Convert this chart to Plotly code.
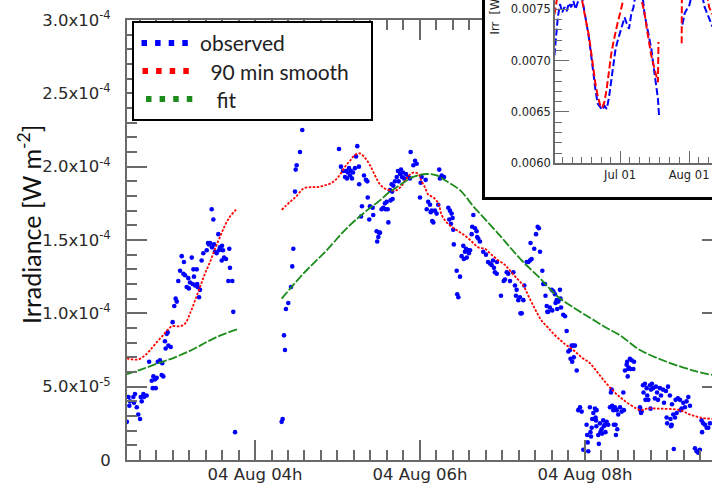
import math
import pandas as pd
import plotly.graph_objects as go

W, H = 712, 484
DAY = pd.Timestamp("2014-08-04")
SCALE = 1e-5  # irradiance lists below are in units of 1e-5 W m^-2

# ---- main panel: observed irradiance, minutes after midnight ----
obs_minute = [
    146.8, 148.0, 148.6, 149.1, 151.5, 152.0, 152.7, 154.0, 155.1, 156.4,
    156.9, 157.6, 158.8, 159.3, 161.2, 163.0, 164.9, 165.6, 166.1, 167.3,
    167.8, 168.5, 169.3, 170.9, 172.1, 172.5, 173.3, 174.5, 175.0, 175.8,
    176.5, 177.0, 178.7, 180.1, 181.3, 182.3, 183.1, 184.2, 185.5, 186.7,
    187.9, 188.3, 189.1, 190.3, 191.5, 191.9, 192.7, 194.0, 194.7, 195.2,
    195.6, 196.4, 197.6, 198.0, 198.3, 199.3, 200.0, 201.2, 202.4, 204.9,
    205.8, 206.5, 207.3, 208.5, 208.7, 209.7, 210.2, 210.9, 212.1, 213.3,
    213.8, 214.5, 215.8, 216.0, 216.7, 217.5, 218.9, 220.6, 221.3, 221.8,
    223.5, 224.2, 225.5,
    259.4, 260.1, 261.1, 261.8, 262.5, 264.2, 266.2, 267.1, 267.9, 269.1,
    269.6, 270.3, 272.7, 274.4, 301.1, 302.5, 304.0, 305.5, 306.2, 306.9,
    307.6, 308.4, 309.1, 309.8, 310.5, 311.3, 312.7, 313.5, 314.4, 315.6,
    315.8, 317.1, 317.8, 319.3, 320.7, 321.7, 322.0, 323.1, 323.6, 325.6,
    326.0, 328.5, 328.9, 329.7, 330.2, 330.9, 332.1, 333.3, 334.5, 334.9,
    335.8, 336.5, 337.0, 338.2, 338.6, 339.4, 339.8, 340.1, 340.6, 341.8,
    343.1, 344.0, 344.5, 345.5, 346.2, 346.9, 347.6, 348.4, 349.8, 351.5,
    352.7, 353.2, 355.2, 356.4, 357.6, 360.0, 360.5, 361.2, 364.1, 364.9,
    366.0, 367.3, 367.8, 368.5, 368.9, 369.7, 370.9, 372.1, 373.3, 374.0,
    374.5, 375.8, 377.5, 380.6, 381.3, 381.8, 382.5, 383.0, 383.7, 384.2,
    384.6, 386.7, 387.1, 387.9, 389.1, 390.3, 391.5, 391.9, 392.7, 393.5,
    394.0, 395.2, 395.6, 396.4, 397.6, 398.0, 398.8, 400.0, 401.2, 401.6,
    402.4, 403.6, 406.0, 408.0, 409.5, 410.9, 412.1, 413.1, 413.8, 414.5,
    415.8, 416.0, 418.9, 420.9, 421.8, 423.1, 424.2, 425.5, 427.9, 429.1,
    429.8, 430.3, 431.5, 432.7, 433.1, 434.0, 435.2, 435.9, 437.6, 438.8,
    440.0, 440.4, 441.2, 443.1, 444.4, 445.6, 446.5, 447.3, 449.0, 449.7,
    450.9, 451.3, 452.2, 452.6, 453.3, 454.5, 455.8, 456.2, 457.0, 458.2,
    458.6, 459.4, 459.8, 460.6, 461.8, 462.2, 462.6, 464.2, 465.5, 466.7,
    467.9, 469.1, 469.5, 470.3, 470.7, 471.5, 471.9, 472.7, 474.0, 475.1,
    476.4, 477.6, 478.8, 481.2, 481.6, 482.0, 482.4, 483.6, 484.0, 484.4,
    484.9, 485.3, 486.1, 487.3, 487.7, 488.0, 488.3, 488.5, 489.7, 490.1,
    490.9, 491.3, 492.1, 492.5, 493.3, 493.7, 494.5, 494.9, 495.8, 496.9,
    498.2, 498.9, 499.4, 499.8, 500.6, 501.0, 501.8, 502.2, 502.5, 503.1,
    503.5, 504.2, 505.5, 506.7, 507.9, 508.3, 509.1, 510.3, 510.7, 511.1,
    511.5, 511.9, 512.7, 513.1, 514.0, 515.2, 515.7, 520.0, 520.4, 520.8,
    521.2, 522.2, 522.6, 523.6, 524.0, 524.9, 525.3, 526.1, 527.3, 527.7,
    528.0, 528.7, 529.5, 530.9, 531.6, 532.4, 533.1, 534.5, 535.3, 536.7,
    537.5, 538.9, 539.4, 539.8, 540.4, 541.8, 542.2, 542.6, 543.1, 543.3,
    544.2, 544.6, 545.5, 545.9, 546.7, 547.6, 549.1, 549.5, 550.3, 551.5,
    552.7, 553.9, 555.2, 556.4, 560.0, 561.2, 562.4, 563.6, 564.8, 565.2,
    566.0, 567.3, 568.5, 569.7, 570.9,
]
obs_irr = [
    2.6, 4.3, 3.7, 4.0, 4.3, 3.9, 4.5, 3.6, 3.1, 2.8,
    4.3, 4.0, 4.5, 4.3, 4.4, 6.7, 5.4, 4.9, 5.7, 5.5,
    4.9, 5.6, 6.7, 6.8, 5.8, 6.6, 5.7, 8.1, 7.6, 8.6,
    8.7, 7.8, 7.7, 9.4, 10.5, 11.0, 10.8, 12.2, 12.9, 13.9,
    12.7, 13.5, 12.6, 11.8, 12.4, 11.7, 12.1, 13.8, 12.0, 13.0,
    12.5, 11.9, 13.0, 12.0, 11.8, 11.1, 11.6, 13.6, 14.1, 14.3,
    14.8, 14.7, 14.8, 17.1, 14.5, 16.4, 14.7, 14.2, 14.1, 15.4,
    14.3, 14.5, 13.6, 14.6, 14.3, 13.8, 13.7, 12.2, 14.4, 13.1,
    12.2, 10.1, 1.9,
    2.6, 2.8, 8.5, 7.5, 10.3, 10.7, 11.8, 13.2, 14.4, 18.3,
    19.8, 20.1, 21.0, 22.5, 21.2, 20.0, 19.7, 19.3, 19.7, 19.2,
    19.6, 19.9, 19.4, 19.7, 19.2, 19.6, 19.9, 20.7, 21.4, 20.0,
    18.8, 16.6, 17.3, 19.4, 19.1, 19.0, 17.9, 16.4, 17.3, 17.2,
    16.7, 15.6, 14.9, 15.2, 15.5, 15.5, 17.1, 17.2, 17.5, 17.1,
    17.6, 17.1, 16.2, 18.4, 17.7, 18.8, 18.3, 17.8, 18.7, 19.0,
    19.3, 19.7, 19.0, 19.5, 19.8, 19.3, 19.6, 19.2, 19.5, 19.3,
    19.2, 21.0, 20.1, 20.4, 20.2, 17.9, 18.9, 19.3, 19.1, 17.1,
    17.6, 17.4, 16.9, 17.0, 16.3, 16.2, 17.0, 16.8, 17.4, 19.8,
    19.2, 19.4, 19.3, 17.2, 16.4, 17.0, 16.1, 16.8, 16.5, 15.7,
    14.7, 12.9, 11.3, 11.1, 12.5, 13.9, 14.6, 13.7, 14.2, 14.4,
    13.8, 14.3, 14.1, 14.3, 15.4, 15.9, 16.7, 15.8, 15.6, 15.2,
    15.1, 14.9, 14.2, 14.0, 13.5, 13.4, 13.3, 13.6, 13.1, 12.8,
    12.7, 13.5, 11.2, 12.2, 12.3, 12.8, 12.7, 12.2, 12.8, 11.9,
    11.2, 11.6, 10.9, 11.1, 10.0, 10.0, 10.9, 11.9, 13.5, 13.5,
    13.6, 14.8, 13.7, 14.4, 15.4, 15.9, 15.8, 14.2, 12.9, 12.0,
    12.0, 11.2, 10.5, 10.1, 10.1, 10.4, 11.6, 10.2, 11.5, 11.3,
    10.7, 10.9, 10.3, 10.8, 11.6, 11.0, 10.4, 9.9, 9.8, 8.8,
    7.4, 7.5, 6.9, 7.8, 6.7, 7.8, 7.0, 7.8, 6.1, 3.4,
    3.6, 3.3, 0.7, 2.4, 1.7, 1.2, 0.6, 3.6, 1.9, 1.6,
    2.2, 2.8, 3.2, 3.5, 2.9, 2.7, 2.3, 3.4, 1.7, 1.1,
    2.5, 1.9, 2.1, 1.8, 2.7, 2.3, 2.4, 1.9, 2.6, 2.4,
    3.6, 4.6, 4.8, 3.7, 3.4, 2.4, 3.6, 2.4, 1.7, 3.4,
    2.1, 3.1, 3.6, 3.3, 4.6, 3.4, 6.1, 6.5, 6.7, 5.7,
    6.2, 6.3, 6.9, 6.2, 6.8, 6.2, 6.7, 3.6, 3.4, 3.2,
    3.3, 5.1, 4.6, 5.2, 4.1, 4.9, 4.4, 4.1, 5.1, 3.5,
    4.8, 5.2, 4.9, 4.2, 5.0, 4.6, 4.1, 4.9, 4.4, 4.8,
    3.9, 4.7, 2.9, 2.5, 5.0, 4.4, 2.8, 2.3, 2.4, 3.8,
    3.1, 0.75, 2.9, 4.1, 3.2, 4.2, 4.1, 3.4, 3.5, 3.9,
    3.6, 4.0, 4.3, 3.7, 0.8, 0.6, 0.5, 0.7, 2.7, 1.9,
    2.5, 2.4, 2.2, 2.2, 2.5,
]
assert len(obs_minute) == len(obs_irr)

# 90 minute running mean (None marks the data gap)
smooth_minute = [
    146.9, 147.6, 154.9, 160.0, 163.6, 168.7, 173.1, 176.7, 179.6, 185.5,
    189.1, 192.7, 196.4, 200.0, 203.6, 207.3, 210.9, 214.5, 218.2, 221.8,
    225.5, 226.6, None,
    259.4, 265.5, 270.3, 275.1, 280.0, 284.9, 289.7, 295.8, 300.6, 305.5,
    309.1, 312.7, 316.4, 320.0, 323.6, 327.3, 330.9, 334.5, 338.2, 343.1,
    346.7, 350.3, 355.1, 358.8, 361.2, 363.6, 366.0, 369.7, 373.3, 375.8,
    379.4, 383.1, 387.9, 392.7, 397.6, 402.4, 407.3, 410.9, 415.8, 421.8,
    425.5, 430.3, 435.1, 438.8, 443.6, 448.5, 453.3, 459.4, 465.5, 471.5,
    477.6, 483.6, 489.7, 495.8, 501.8, 507.9, 517.6, 521.2, 524.8, 534.5,
    549.1, 556.4, 563.6, 572.4,
]
smooth_irr = [
    6.95, 6.92, 6.85, 7.14, 7.48, 8.05, 8.5, 8.89, 9.12, 9.12,
    9.3, 9.98, 10.88, 11.79, 12.7, 13.5, 14.4, 15.2, 16.0, 16.6,
    17.0, 17.1, None,
    17.05, 17.6, 18.0, 18.5, 18.6, 18.6, 18.7, 18.9, 19.3, 20.0,
    20.4, 20.8, 20.9, 20.6, 20.1, 19.4, 18.8, 18.5, 18.4, 18.4,
    18.7, 19.2, 19.6, 19.5, 19.0, 18.6, 18.1, 17.9, 17.5, 16.7,
    16.2, 15.9, 15.6, 15.3, 14.9, 14.5, 14.4, 14.1, 13.7, 13.3,
    12.9, 12.4, 11.9, 11.2, 10.3, 9.5, 9.0, 8.4, 7.9, 7.5,
    7.0, 6.6, 5.9, 5.2, 4.6, 4.1, 3.5, 3.4, 3.5, 3.5,
    3.4, 3.1, 2.9, 2.8,
]
assert len(smooth_minute) == len(smooth_irr)

# fitted curve
fit_minute = [
    146.9, 158.0, 169.7, 181.8, 193.9, 206.0, 215.0, 226.9, None,
    259.4, 275.1, 292.1, 306.7, 321.2, 330.9, 336.9, 343.1, 355.1, 364.9,
    372.1, 379.4, 389.1, 398.8, 408.5, 418.2, 425.5, 435.1, 447.3, 459.4,
    471.5, 483.6, 495.8, 505.5, 520.0, 539.4, 558.8, 572.4,
]
fit_irr = [
    5.85, 6.2, 6.6, 7.0, 7.5, 8.1, 8.5, 8.9, None,
    11.0, 12.7, 14.3, 15.8, 17.0, 17.7, 18.2, 18.6, 19.3, 19.5,
    19.4, 19.0, 18.4, 17.3, 16.3, 15.3, 14.5, 13.5, 12.4, 11.2,
    10.4, 9.7, 9.0, 8.5, 7.5, 6.7, 6.1, 5.8,
]
assert len(fit_minute) == len(fit_irr)

y_ticks = [0, 5e-5, 1e-4, 1.5e-4, 2e-4, 2.5e-4, 3e-4]

# ---- inset: daily irradiance over the summer ----
inset_obs_date = [
    "2014-06-01 12:00", "2014-06-03", "2014-06-04", "2014-06-05", "2014-06-06",
    "2014-06-07", "2014-06-08", "2014-06-09", "2014-06-10", "2014-06-11",
    "2014-06-12", "2014-06-13", "2014-06-14", "2014-06-15", "2014-06-16",
    "2014-06-17", "2014-06-18", "2014-06-19", "2014-06-20", "2014-06-21",
    "2014-06-22", "2014-06-23", "2014-06-24", "2014-06-25", "2014-06-26",
    "2014-06-27", "2014-06-28", "2014-06-29", "2014-06-30", "2014-07-01",
    "2014-07-02", "2014-07-03", "2014-07-04", "2014-07-05", "2014-07-06",
    "2014-07-07", "2014-07-08", "2014-07-11", "2014-07-12", "2014-07-13",
    "2014-07-14", "2014-07-15", "2014-07-16", "2014-07-17", "2014-07-18",
    "2014-07-18 12:00", None,
    "2014-07-29", "2014-07-30", "2014-07-31", "2014-08-01", "2014-08-02",
    "2014-08-07", "2014-08-08", "2014-08-09", "2014-08-10", "2014-08-11 12:00",
]
inset_obs_irr = [
    0.00705, 0.00742, 0.00755, 0.00747, 0.00752,
    0.00748, 0.00756, 0.00752, 0.00758, 0.00750,
    0.00757, 0.00762, 0.00760, 0.00745, 0.00735,
    0.00722, 0.00702, 0.00688, 0.00670, 0.00658,
    0.00655, 0.00652, 0.00656, 0.00653, 0.00664,
    0.00682, 0.00700, 0.00712, 0.00720, 0.00728,
    0.00735, 0.00742, 0.00736, 0.00731, 0.00745,
    0.00752, 0.00765, 0.00765, 0.00745, 0.00735,
    0.00724, 0.00712, 0.00695, 0.00677, 0.00663,
    0.00646, None,
    0.00735, 0.00746, 0.00750, 0.00753, 0.00762,
    0.00762, 0.00752, 0.00746, 0.00740, 0.00733,
]
inset_smooth_date = [
    "2014-06-01 12:00", "2014-06-02", "2014-06-03", "2014-06-13", "2014-06-14",
    "2014-06-15", "2014-06-16", "2014-06-17", "2014-06-18", "2014-06-19",
    "2014-06-20", "2014-06-21", "2014-06-22", "2014-06-23", "2014-06-24",
    "2014-06-25", "2014-06-26", "2014-06-27", "2014-06-28", "2014-06-29",
    "2014-06-30", "2014-07-01", "2014-07-02", "2014-07-03", "2014-07-10",
    "2014-07-11", "2014-07-12", "2014-07-13", "2014-07-14", "2014-07-15",
    "2014-07-16", "2014-07-17", "2014-07-18", "2014-07-18 06:00", None,
    "2014-07-28 16:00", "2014-07-28 18:00", None,
    "2014-08-09", "2014-08-10", "2014-08-11 12:00",
]
inset_smooth_irr = [
    0.00745, 0.00752, 0.00765, 0.00765, 0.00758,
    0.00746, 0.00736, 0.00724, 0.00708, 0.00690,
    0.00676, 0.00665, 0.00657, 0.00654, 0.00660,
    0.00673, 0.00690, 0.00706, 0.00718, 0.00729,
    0.00738, 0.00746, 0.00756, 0.00765, 0.00765,
    0.00756, 0.00746, 0.00731, 0.00716, 0.00705,
    0.00696, 0.00686, 0.00679, 0.00718, None,
    0.00717, 0.00765, None,
    0.00765, 0.00752, 0.00745,
]

AXIS_GREY = "#6a6a6a"
TICK_FONT = dict(family="DejaVu Sans, Verdana, sans-serif", size=16.5, color="#2a2a2a")
SMALL_FONT = dict(family="DejaVu Sans, Verdana, sans-serif", size=11.5, color="#222")
LABEL_FONT = "Lato, Open Sans, sans-serif"
BLUE, RED, GREEN = "#0000ff", "#ff0000", "#1c8c1c"


def stamp(minutes):
    return [None if m is None else (DAY + pd.Timedelta(minutes=m)).strftime("%Y-%m-%d %H:%M:%S")
            for m in minutes]


def scaled(values):
    return [None if v is None else v * SCALE for v in values]


def sci_label(v):
    if v == 0:
        return "0"
    e = math.floor(math.log10(v) + 1e-9)
    return f"{v / 10 ** e:.1f}x10<sup>{e}</sup>"


def px_x(px):
    return px / W


def px_y(py):
    return (H - py) / H


fig = go.Figure()

fig.add_trace(go.Scatter(x=stamp(obs_minute), y=scaled(obs_irr), mode="markers",
                         marker=dict(color=BLUE, size=4.6, symbol="circle"),
                         hoverinfo="skip", xaxis="x", yaxis="y"))
fig.add_trace(go.Scatter(x=stamp(smooth_minute), y=scaled(smooth_irr), mode="lines",
                         line=dict(color=RED, width=1.8, dash="2.5px,1.5px", shape="spline"),
                         hoverinfo="skip", xaxis="x", yaxis="y"))
fig.add_trace(go.Scatter(x=stamp(fit_minute), y=scaled(fit_irr), mode="lines",
                         line=dict(color=GREEN, width=1.8, dash="9px,2px", shape="spline"),
                         hoverinfo="skip", xaxis="x", yaxis="y"))
# right-hand frame ticks of the main panel
fig.add_trace(go.Scatter(x=[None], y=[None], mode="markers", hoverinfo="skip",
                         xaxis="x4", yaxis="y4"))

# white framed panel that holds the inset
fig.add_trace(go.Scatter(x=[None], y=[None], mode="markers", hoverinfo="skip",
                         xaxis="x2", yaxis="y2"))

fig.add_trace(go.Scatter(x=inset_obs_date, y=inset_obs_irr, mode="lines",
                         line=dict(color=BLUE, width=2, dash="7px,3px"),
                         hoverinfo="skip", xaxis="x3", yaxis="y3"))
fig.add_trace(go.Scatter(x=inset_smooth_date, y=inset_smooth_irr, mode="lines",
                         line=dict(color=RED, width=2, dash="7px,3px"),
                         hoverinfo="skip", xaxis="x3", yaxis="y3"))

# minor ticks of the inset: each month split into seven steps
months = pd.date_range("2014-06-01", "2014-09-01", freq="MS")
inset_minor = []
for a, b in zip(months[:-1], months[1:]):
    step = (b - a) / 7
    inset_minor += [(a + k * step).strftime("%Y-%m-%d %H:%M") for k in range(1, 7)]

x_left = (DAY + pd.Timedelta(minutes=146.9)).strftime("%Y-%m-%d %H:%M:%S")
x_right = (DAY + pd.Timedelta(minutes=572.4)).strftime("%Y-%m-%d %H:%M:%S")

fig.update_layout(
    width=W, height=H, autosize=False,
    margin=dict(l=0, r=0, t=0, b=0, pad=0, autoexpand=False),
    paper_bgcolor="white", plot_bgcolor="white", showlegend=False,
    xaxis=dict(domain=[px_x(127), 1], anchor="y", type="date", range=[x_left, x_right],
               automargin=False,
               showline=True, linecolor=AXIS_GREY, linewidth=2, mirror="allticks",
               ticks="inside", ticklen=20, tickwidth=1.5, tickcolor=AXIS_GREY,
               tickmode="linear", tick0="2014-08-04 00:00", dtick=2 * 3600 * 1000,
               tickformat="%d %b %Hh", tickfont=TICK_FONT, ticklabelstandoff=-2,
               minor=dict(ticks="inside", ticklen=10, tickwidth=1.5, tickcolor=AXIS_GREY,
                          tick0="2014-08-04 00:00", dtick=12 * 60 * 1000),
               showgrid=False, zeroline=False),
    yaxis=dict(domain=[px_y(460), px_y(20)], anchor="x", range=[0, 3e-4], automargin=False,
               showline=True, linecolor=AXIS_GREY, linewidth=2,
               ticks="inside", ticklen=20, tickwidth=1.5, tickcolor=AXIS_GREY,
               tickmode="array", tickvals=y_ticks, ticktext=[sci_label(v) for v in y_ticks],
               tickfont=TICK_FONT, ticklabelstandoff=11,
               minor=dict(ticks="inside", ticklen=10, tickwidth=1.5, tickcolor=AXIS_GREY,
                          dtick=1e-5),
               showgrid=False, zeroline=False),
    xaxis4=dict(overlaying="x", anchor="y4", type="date", range=[x_left, x_right],
                visible=False, automargin=False),
    yaxis4=dict(overlaying="y", side="right", anchor="x4", range=[0, 3e-4], automargin=False,
                showline=False, ticks="inside", ticklen=10, tickwidth=1.5,
                tickcolor=AXIS_GREY, tickmode="array", tickvals=y_ticks[1:],
                showticklabels=False, showgrid=False, zeroline=False),
    xaxis2=dict(domain=[px_x(485), 1], anchor="y2", range=[0, 1], showline=True,
                automargin=False,
                linecolor="black", linewidth=2.5, ticks="", showticklabels=False,
                showgrid=False, zeroline=False),
    yaxis2=dict(domain=[px_y(197), 1], anchor="x2", range=[0, 1], showline=True,
                automargin=False,
                linecolor="black", linewidth=2.5, ticks="", showticklabels=False,
                showgrid=False, zeroline=False),
    xaxis3=dict(domain=[px_x(555), 1], anchor="y3", type="date", automargin=False,
                range=["2014-06-01 18:00", "2014-08-11 07:00"],
                showline=True, linecolor=AXIS_GREY, linewidth=1.5,
                ticks="inside", ticklen=13, tickwidth=1.2, tickcolor=AXIS_GREY,
                tickmode="linear", tick0="2014-06-01", dtick="M1", tickformat="%b %d",
                tickfont=SMALL_FONT,
                minor=dict(ticks="inside", ticklen=7, tickwidth=1.2, tickcolor=AXIS_GREY,
                           tickmode="array", tickvals=inset_minor),
                showgrid=False, zeroline=False),
    yaxis3=dict(domain=[px_y(163.3), 1], anchor="x3", range=[0.0060, 0.00759],
                automargin=False,
                showline=True, linecolor=AXIS_GREY, linewidth=1.5,
                ticks="inside", ticklen=14, tickwidth=1.2, tickcolor=AXIS_GREY,
                tickmode="linear", tick0=0.0060, dtick=0.0005, tickformat=".4f",
                tickfont=SMALL_FONT,
                minor=dict(ticks="inside", ticklen=7, tickwidth=1.2, tickcolor=AXIS_GREY,
                           dtick=0.0001),
                showgrid=False, zeroline=False),
)

annotations = [
    dict(text="Irradiance [W m<sup>-2</sup>]", xref="paper", yref="paper",
         x=px_x(30), y=px_y(225), xanchor="center", yanchor="middle", textangle=-90,
         showarrow=False, font=dict(family=LABEL_FONT, size=25, color="#111")),
    dict(text="Irr  [W/m<sup>2</sup>]", xref="paper", yref="paper",
         x=px_x(495), y=px_y(37), xanchor="center", yanchor="bottom", textangle=-90,
         showarrow=False, font=SMALL_FONT),
]

# legend drawn as a framed box with dotted samples
shapes = [dict(type="rect", xref="paper", yref="paper", x0=px_x(133), x1=px_x(372),
               y0=px_y(120), y1=px_y(22), line=dict(color="black", width=2),
               fillcolor="white", layer="above")]
legend_rows = [("observed", BLUE, 141.5, 43, 198), (" 90 min smooth", RED, 142.5, 71, 203),
               (" fit", GREEN, 146.0, 99, 209)]
for label, color, x0, yc, xt in legend_rows:
    for k in range(4):
        xs = x0 + 13.6 * k
        shapes.append(dict(type="rect", xref="paper", yref="paper",
                           x0=px_x(xs), x1=px_x(xs + 5.5), y0=px_y(yc + 3), y1=px_y(yc - 3),
                           line=dict(width=0), fillcolor=color, layer="above"))
    annotations.append(dict(text=label, xref="paper", yref="paper", x=px_x(xt), y=px_y(yc),
                            xanchor="left", yanchor="middle", showarrow=False,
                            font=dict(family=LABEL_FONT, size=21, color="#222")))

fig.update_layout(shapes=shapes, annotations=annotations)

fig.write_html("out.html")
